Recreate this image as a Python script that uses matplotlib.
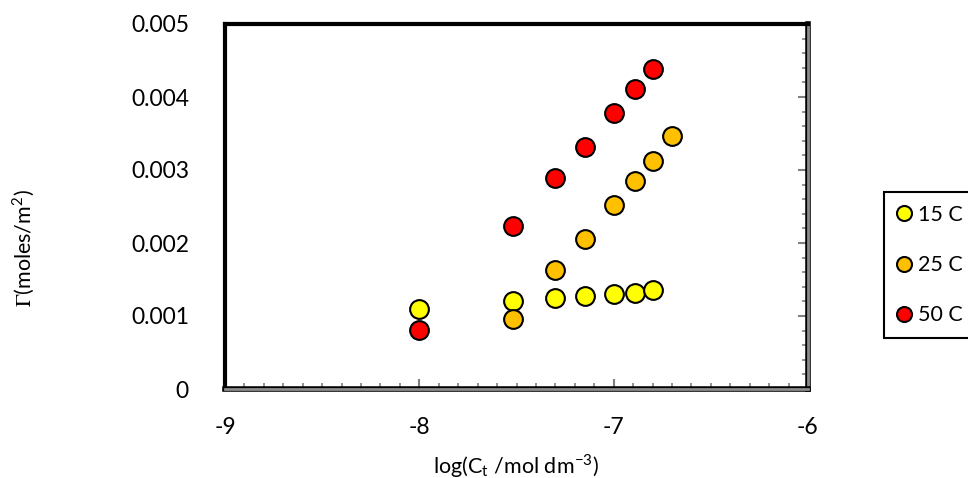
import matplotlib
matplotlib.use("Agg")
import matplotlib.pyplot as plt
import matplotlib.patheffects as pe
from matplotlib.ticker import MultipleLocator, FuncFormatter

plt.rcParams['font.family'] = ['Lato', 'DejaVu Sans']
plt.rcParams['mathtext.fontset'] = 'stix'

# ----- data -----
log_c = [-8.0, -7.52, -7.30, -7.15, -7.0, -6.89, -6.80, -6.70]

x_15 = log_c[:7]
g_15 = [0.00110, 0.00120, 0.00124, 0.00127, 0.00130, 0.00132, 0.00135]

x_25 = log_c[1:]
g_25 = [0.00096, 0.00163, 0.00206, 0.00252, 0.00285, 0.00312, 0.00347]

x_50 = log_c[:7]
g_50 = [0.00081, 0.00223, 0.00289, 0.00332, 0.00378, 0.00411, 0.00438]

series = [
    ("15 C", x_15, g_15, "#FFFF00"),
    ("25 C", x_25, g_25, "#FFC000"),
    ("50 C", x_50, g_50, "#FF0000"),
]

fig = plt.figure(figsize=(9.68, 4.78), dpi=100)
ax = fig.add_axes([225 / 968, 1 - 389 / 478, 583 / 968, 365 / 478])

for label, xs, ys, col in series:
    ax.plot(xs, ys, linestyle="none", marker="o", markersize=13.5,
            markerfacecolor=col, markeredgecolor="black", markeredgewidth=1.5,
            label=label, zorder=3)

ax.set_xlim(-9, -6)
ax.set_ylim(0, 0.005)

ax.xaxis.set_major_locator(MultipleLocator(1))
ax.xaxis.set_minor_locator(MultipleLocator(0.1))
ax.yaxis.set_major_locator(MultipleLocator(0.001))
ax.yaxis.set_minor_locator(MultipleLocator(0.0002))
ax.yaxis.set_major_formatter(FuncFormatter(lambda v, p: "0" if abs(v) < 1e-12 else f"{v:.3f}"))
ax.xaxis.set_major_formatter(FuncFormatter(lambda v, p: f"{v:.0f}"))

ax.tick_params(axis="x", which="both", direction="in", colors="#808080",
               labelcolor="black", labelsize=16.5, pad=20)
ax.tick_params(axis="x", which="major", length=7, width=1.5)
ax.tick_params(axis="x", which="minor", length=4, width=1.2)
ax.tick_params(axis="y", which="both", left=False, right=True, labelleft=True,
               direction="in", colors="#808080", labelcolor="black",
               labelsize=16.5, pad=26)
ax.tick_params(axis="y", which="major", length=7, width=1.5)
ax.tick_params(axis="y", which="minor", length=4, width=1.2)

for side in ("left", "top"):
    ax.spines[side].set_color("black")
    ax.spines[side].set_linewidth(3)
for side in ("bottom", "right"):
    ax.spines[side].set_color("#8c8c8c")
    ax.spines[side].set_linewidth(2)
    ax.spines[side].set_path_effects([pe.Stroke(linewidth=4, foreground="black"), pe.Normal()])

fig.text(516 / 968, 1 - 466 / 478, r"log(C$_\mathregular{t}$ /mol dm$^\mathregular{-3}$)",
         ha="center", va="center", fontsize=15.5)
fig.text(23 / 968, 1 - 248 / 478, r"$\mathrm{\Gamma}$(moles/m$^\mathregular{2}$)",
         ha="center", va="center", rotation=90, fontsize=15.5)

leg = ax.legend(loc="upper left", bbox_to_anchor=(884 / 968, 1 - 192 / 478),
                bbox_transform=fig.transFigure, frameon=True, fancybox=False,
                framealpha=1, edgecolor="black", fontsize=15.5, markerscale=0.8,
                handlelength=0.7, handletextpad=0.3, labelspacing=1.4,
                borderpad=0.6, borderaxespad=0)
leg.get_frame().set_linewidth(1.5)

fig.savefig("out.png", dpi=100)
